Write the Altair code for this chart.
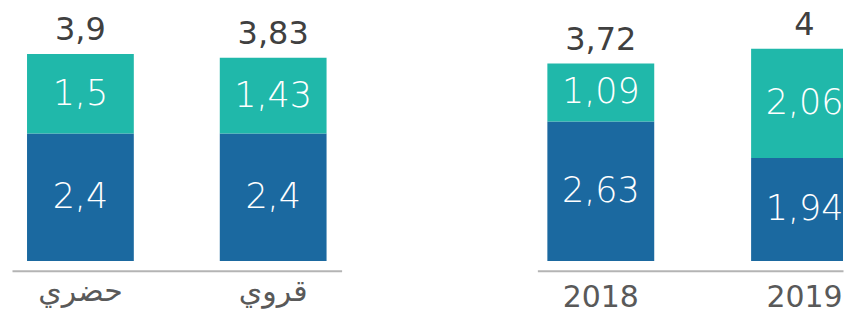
import altair as alt
import pandas as pd

# Left panel (area of residence)
areas = ["حضري", "قروي"]
area_bottom = [2.4, 2.4]
area_top = [1.5, 1.43]
area_total = [3.9, 3.83]

# Right panel (years)
years = ["2018", "2019"]
year_bottom = [2.63, 1.94]
year_top = [1.09, 2.06]
year_total = [3.72, 4]

DARK = "#1b69a0"
TEAL = "#20b8aa"
FONT = "DejaVu Sans"
LINE = "#b4b4b4"


def fmt(v):
    s = f"{v:g}"
    return s.replace(".", ",")


def make_frames(cats, bottom, top, total):
    rows = []
    for c, b, t in zip(cats, bottom, top):
        rows.append({"cat": c, "seg": "bottom", "y0": 0, "y1": b, "mid": b / 2, "lab": fmt(b)})
        rows.append({"cat": c, "seg": "top", "y0": b, "y1": b + t, "mid": b + t / 2, "lab": fmt(t)})
    seg = pd.DataFrame(rows)
    tot = pd.DataFrame({"cat": cats, "total": total, "lab": [fmt(v) for v in total]})
    return seg, tot


def panel(cats, bottom, top, total, width, scale_opts, label_pad, bar_width=None):
    seg, tot = make_frames(cats, bottom, top, total)
    x = alt.X(
        "cat:N",
        sort=cats,
        title=None,
        scale=alt.Scale(**scale_opts),
        axis=alt.Axis(
            labelAngle=0,
            ticks=False,
            domainColor=LINE,
            domainWidth=2,
            offset=10,
            labelFontSize=30,
            labelColor="#595959",
            labelFont=FONT,
            labelPadding=label_pad,
        ),
    )
    yscale = alt.Scale(domain=[0, 4.727])
    bar_kw = dict(clip=True)
    if bar_width is not None:
        bar_kw["width"] = bar_width
    bars = alt.Chart(seg).mark_bar(**bar_kw).encode(
        x=x,
        y=alt.Y("y0:Q", scale=yscale, axis=None),
        y2="y1:Q",
        color=alt.Color(
            "seg:N",
            scale=alt.Scale(domain=["bottom", "top"], range=[DARK, TEAL]),
            legend=None,
        ),
    )
    inner = alt.Chart(seg).mark_text(
        color="white", fontSize=35, font=FONT, fontWeight=300, baseline="middle"
    ).encode(x=x, y=alt.Y("mid:Q", scale=yscale, axis=None), text="lab:N")
    totals = alt.Chart(tot).mark_text(
        color="#404040", fontSize=32, font=FONT, baseline="bottom", dy=-7
    ).encode(x=x, y=alt.Y("total:Q", scale=yscale, axis=None), text="lab:N")
    return alt.layer(bars, inner, totals).properties(width=width, height=251)


left = panel(areas, area_bottom, area_top, area_total, 330,
             dict(paddingInner=0.446, paddingOuter=0.078), label_pad=6)
right = panel(years, year_bottom, year_top, year_total, 306,
              dict(paddingInner=0.6225, paddingOuter=0.0613, align=1),
              label_pad=12, bar_width=107)

chart = (
    alt.hconcat(left, right, spacing=196)
    .properties(padding={"left": 4, "top": 0, "right": 0, "bottom": -4})
    .configure_view(stroke=None)
)

chart.save("out.html", embed_options={"renderer": "svg", "actions": False})
